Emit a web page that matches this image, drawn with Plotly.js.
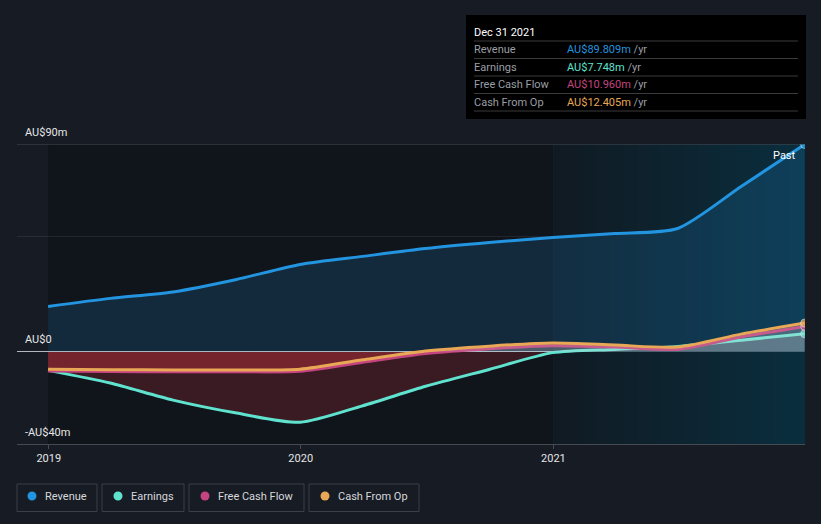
<!DOCTYPE html>
<html>
<head>
<meta charset="utf-8">
<script src="https://cdn.plot.ly/plotly-3.0.1.min.js"></script>
<style>
  html, body { margin: 0; padding: 0; background: #161b24; }
  #chart { width: 821px; height: 524px; }
</style>
</head>
<body>
<div id="chart"></div>
<script>
// ---- data (AU$ millions, trailing twelve months) ----
const dates    = ['2018-12-31','2019-03-31','2019-06-30','2019-09-30','2019-12-31','2020-03-31','2020-06-30','2020-09-30','2020-12-31','2021-03-31','2021-06-30','2021-09-30','2021-12-31'];
const revenue  = [19.6, 23.1, 25.9, 31.3, 37.8, 41.3, 44.7, 47.3, 49.5, 51.2, 53.4, 71.6, 89.809];
const earnings = [-8.1, -13.6, -21.0, -26.6, -30.6, -23.4, -15.0, -7.7, -0.4, 1.0, 2.3, 5.0, 7.748];
const fcf      = [-8.4, -8.6, -8.7, -8.7, -8.5, -4.6, -0.8, 1.3, 2.6, 2.0, 1.0, 6.4, 10.960];
const cfo      = [-7.6, -7.8, -7.9, -7.9, -7.6, -3.5, 0.3, 2.4, 3.8, 2.9, 2.0, 7.6, 12.405];

const seriesNames  = ['Revenue', 'Earnings', 'Free Cash Flow', 'Cash From Op'];
const seriesColors = ['#2394df', '#5fe3cf', '#c4447f', '#e9a855'];
const tooltipDate  = 'Dec 31 2021';
const yTickVals    = [90, 0, -40];
const yTickText    = ['AU$90m', 'AU$0', '-AU$40m'];
const xTickVals    = ['2019-01-01', '2020-01-01', '2021-01-01'];
const xTickText    = ['2019', '2020', '2021'];

// ---- layout helpers (pixel -> paper) ----
const L = 17, R = 805, T = 144, B = 444;
const px = X => (X - L) / (R - L);
const py = Y => (B - Y) / (B - T);

const font = 'Roboto, "Open Sans", sans-serif';
const n = dates.length;
const endSizes = dates.map((d, i) => i === n - 1 ? 8 : 0);

const negFill = 'rgba(200,50,60,0.23)';
const posFill = 'rgba(220,220,220,0.15)';
const gradLo = -40, gradHi = 15;
const zf = (0 - gradLo) / (gradHi - gradLo);
const signGradient = {
  type: 'vertical', start: gradLo, stop: gradHi,
  colorscale: [[0, negFill], [zf, negFill], [Math.min(1, zf + 0.001), posFill], [1, posFill]]
};

function lineTrace(y, idx, fillSpec) {
  const t = {
    x: dates, y: y, type: 'scatter', mode: 'lines+markers', name: seriesNames[idx],
    line: { color: seriesColors[idx], width: 3, shape: 'spline', smoothing: 0.7 },
    marker: { size: endSizes, color: seriesColors[idx], line: { color: 'rgba(230,240,250,0.85)', width: 1 } },
    fill: 'tozeroy', hoverinfo: 'skip', showlegend: false
  };
  Object.assign(t, fillSpec);
  return t;
}

// ---- last-year highlight as a raster gradient (heatmap, no seams) ----
const hlStart = new Date(xTickVals[2] + 'T00:00:00Z').getTime();
const hlEnd = new Date(dates[n - 1] + 'T00:00:00Z').getTime() + 86400000;
const cols = 80;
const toDate = ms => new Date(ms).toISOString().slice(0, 19).replace('T', ' ');
const hlX = [], hlZ = [];
for (let i = 0; i <= cols; i++) hlX.push(toDate(hlStart + (hlEnd - hlStart) * i / cols));
for (let i = 0; i < cols; i++) hlZ.push(i);
const highlight = {
  type: 'heatmap', x: hlX, y: [-40, 90], z: [hlZ], showscale: false, hoverinfo: 'skip',
  zmin: 0, zmax: cols - 1, colorscale: [[0, 'rgb(16,26,34)'], [1, 'rgb(10,46,62)']], zsmooth: false
};

const traces = [
  highlight,
  lineTrace(revenue, 0, { fillcolor: 'rgba(35,148,223,0.17)' }),
  lineTrace(earnings, 1, { fillgradient: signGradient }),
  lineTrace(fcf, 2, { fillgradient: signGradient }),
  lineTrace(cfo, 3, { fillgradient: signGradient })
];

// ---- background regions ----
const shapes = [];
shapes.push({ type: 'rect', layer: 'below', xref: 'x', yref: 'paper', x0: dates[0], x1: xTickVals[2], y0: 0, y1: 1,
  fillcolor: '#10141b', line: { width: 0 } });
shapes.push({ type: 'line', layer: 'below', xref: 'x', yref: 'paper', x0: xTickVals[2], x1: xTickVals[2], y0: 0, y1: 1,
  line: { color: 'rgba(255,255,255,0.05)', width: 1 } });
// top gridline at 90
shapes.push({ type: 'line', layer: 'above', xref: 'paper', yref: 'y', x0: 0, x1: 1, y0: yTickVals[0], y1: yTickVals[0],
  line: { color: '#464b53', width: 1 } });

// ---- annotations ----
const annotations = [];
yTickVals.forEach((v, i) => {
  annotations.push({ xref: 'paper', yref: 'y', x: px(23), y: v, xanchor: 'left', yanchor: 'middle', yshift: 12,
    text: yTickText[i], showarrow: false, font: { family: font, size: 11, color: '#e6e6e6' } });
});
annotations.push({ xref: 'x', yref: 'y', x: dates[n - 1], y: yTickVals[0], xanchor: 'right', yanchor: 'middle',
  xshift: -7, yshift: -11, text: 'Past', showarrow: false, font: { family: font, size: 11, color: '#ffffff' } });

// tooltip box
shapes.push({ type: 'rect', xref: 'paper', yref: 'paper', x0: px(466), x1: px(806), y0: py(15), y1: py(119),
  fillcolor: '#000000', line: { width: 0 } });
annotations.push({ xref: 'paper', yref: 'paper', x: px(472), y: py(32), xanchor: 'left', yanchor: 'middle',
  text: tooltipDate, showarrow: false, font: { family: font, size: 11, color: '#ffffff' } });
[41, 58.5, 76, 93.5, 111].forEach(Y => {
  shapes.push({ type: 'line', xref: 'paper', yref: 'paper', x0: px(474), x1: px(798), y0: py(Y), y1: py(Y),
    line: { color: '#3a3a3a', width: 1 } });
});
const lastVals = [revenue[n - 1], earnings[n - 1], fcf[n - 1], cfo[n - 1]];
[49.5, 67, 84.5, 102].forEach((Y, i) => {
  annotations.push({ xref: 'paper', yref: 'paper', x: px(472), y: py(Y), xanchor: 'left', yanchor: 'middle',
    text: seriesNames[i], showarrow: false, font: { family: font, size: 11, color: '#9a9ea5' } });
  annotations.push({ xref: 'paper', yref: 'paper', x: px(564.5), y: py(Y), xanchor: 'left', yanchor: 'middle',
    text: `<span style="color:${seriesColors[i]}">AU$${lastVals[i].toFixed(3)}m</span> /yr`, showarrow: false,
    font: { family: font, size: 11, color: '#9a9ea5' } });
});

// legend boxes
const legendBoxes = [[17, 97, 32, 43], [102, 184, 118, 129], [189, 304, 205, 216], [309, 419, 325, 336]];
legendBoxes.forEach((b, i) => {
  shapes.push({ type: 'rect', xref: 'paper', yref: 'paper', x0: px(b[0]), x1: px(b[1]), y0: py(484), y1: py(511.5),
    fillcolor: 'rgba(0,0,0,0)', line: { color: '#3a3f48', width: 1 } });
  shapes.push({ type: 'circle', xref: 'paper', yref: 'paper', x0: px(b[2] - 4.5), x1: px(b[2] + 4.5), y0: py(496 + 4.5), y1: py(496 - 4.5),
    fillcolor: seriesColors[i], line: { width: 0 } });
  annotations.push({ xref: 'paper', yref: 'paper', x: px(b[3]), y: py(496.5), xanchor: 'left', yanchor: 'middle',
    text: seriesNames[i], showarrow: false, font: { family: font, size: 11, color: '#d6d8db' } });
});

const layout = {
  width: 821, height: 524,
  margin: { l: L, r: 821 - R, t: T, b: 524 - B, pad: 0 },
  paper_bgcolor: '#161b24', plot_bgcolor: 'rgba(0,0,0,0)',
  showlegend: false,
  font: { family: font, size: 11, color: '#e6e6e6' },
  xaxis: {
    type: 'date', range: ['2018-11-16', '2021-12-31 12:00'], fixedrange: true,
    showgrid: false, zeroline: false,
    showline: true, linecolor: '#464b53', linewidth: 1,
    ticks: 'outside', ticklen: 4, tickcolor: '#464b53', tickwidth: 1,
    tickvals: xTickVals, ticktext: xTickText,
    tickfont: { family: font, size: 11, color: '#e6e6e6' }
  },
  yaxis: {
    range: [-40, 90], fixedrange: true,
    tickvals: [50], showticklabels: false, ticks: '',
    showgrid: true, gridcolor: 'rgba(255,255,255,0.08)', gridwidth: 1,
    zeroline: true, zerolinecolor: '#b4b8bd', zerolinewidth: 1
  },
  shapes: shapes,
  annotations: annotations
};

Plotly.newPlot('chart', traces, layout, { displayModeBar: false, staticPlot: true });
</script>
</body>
</html>
